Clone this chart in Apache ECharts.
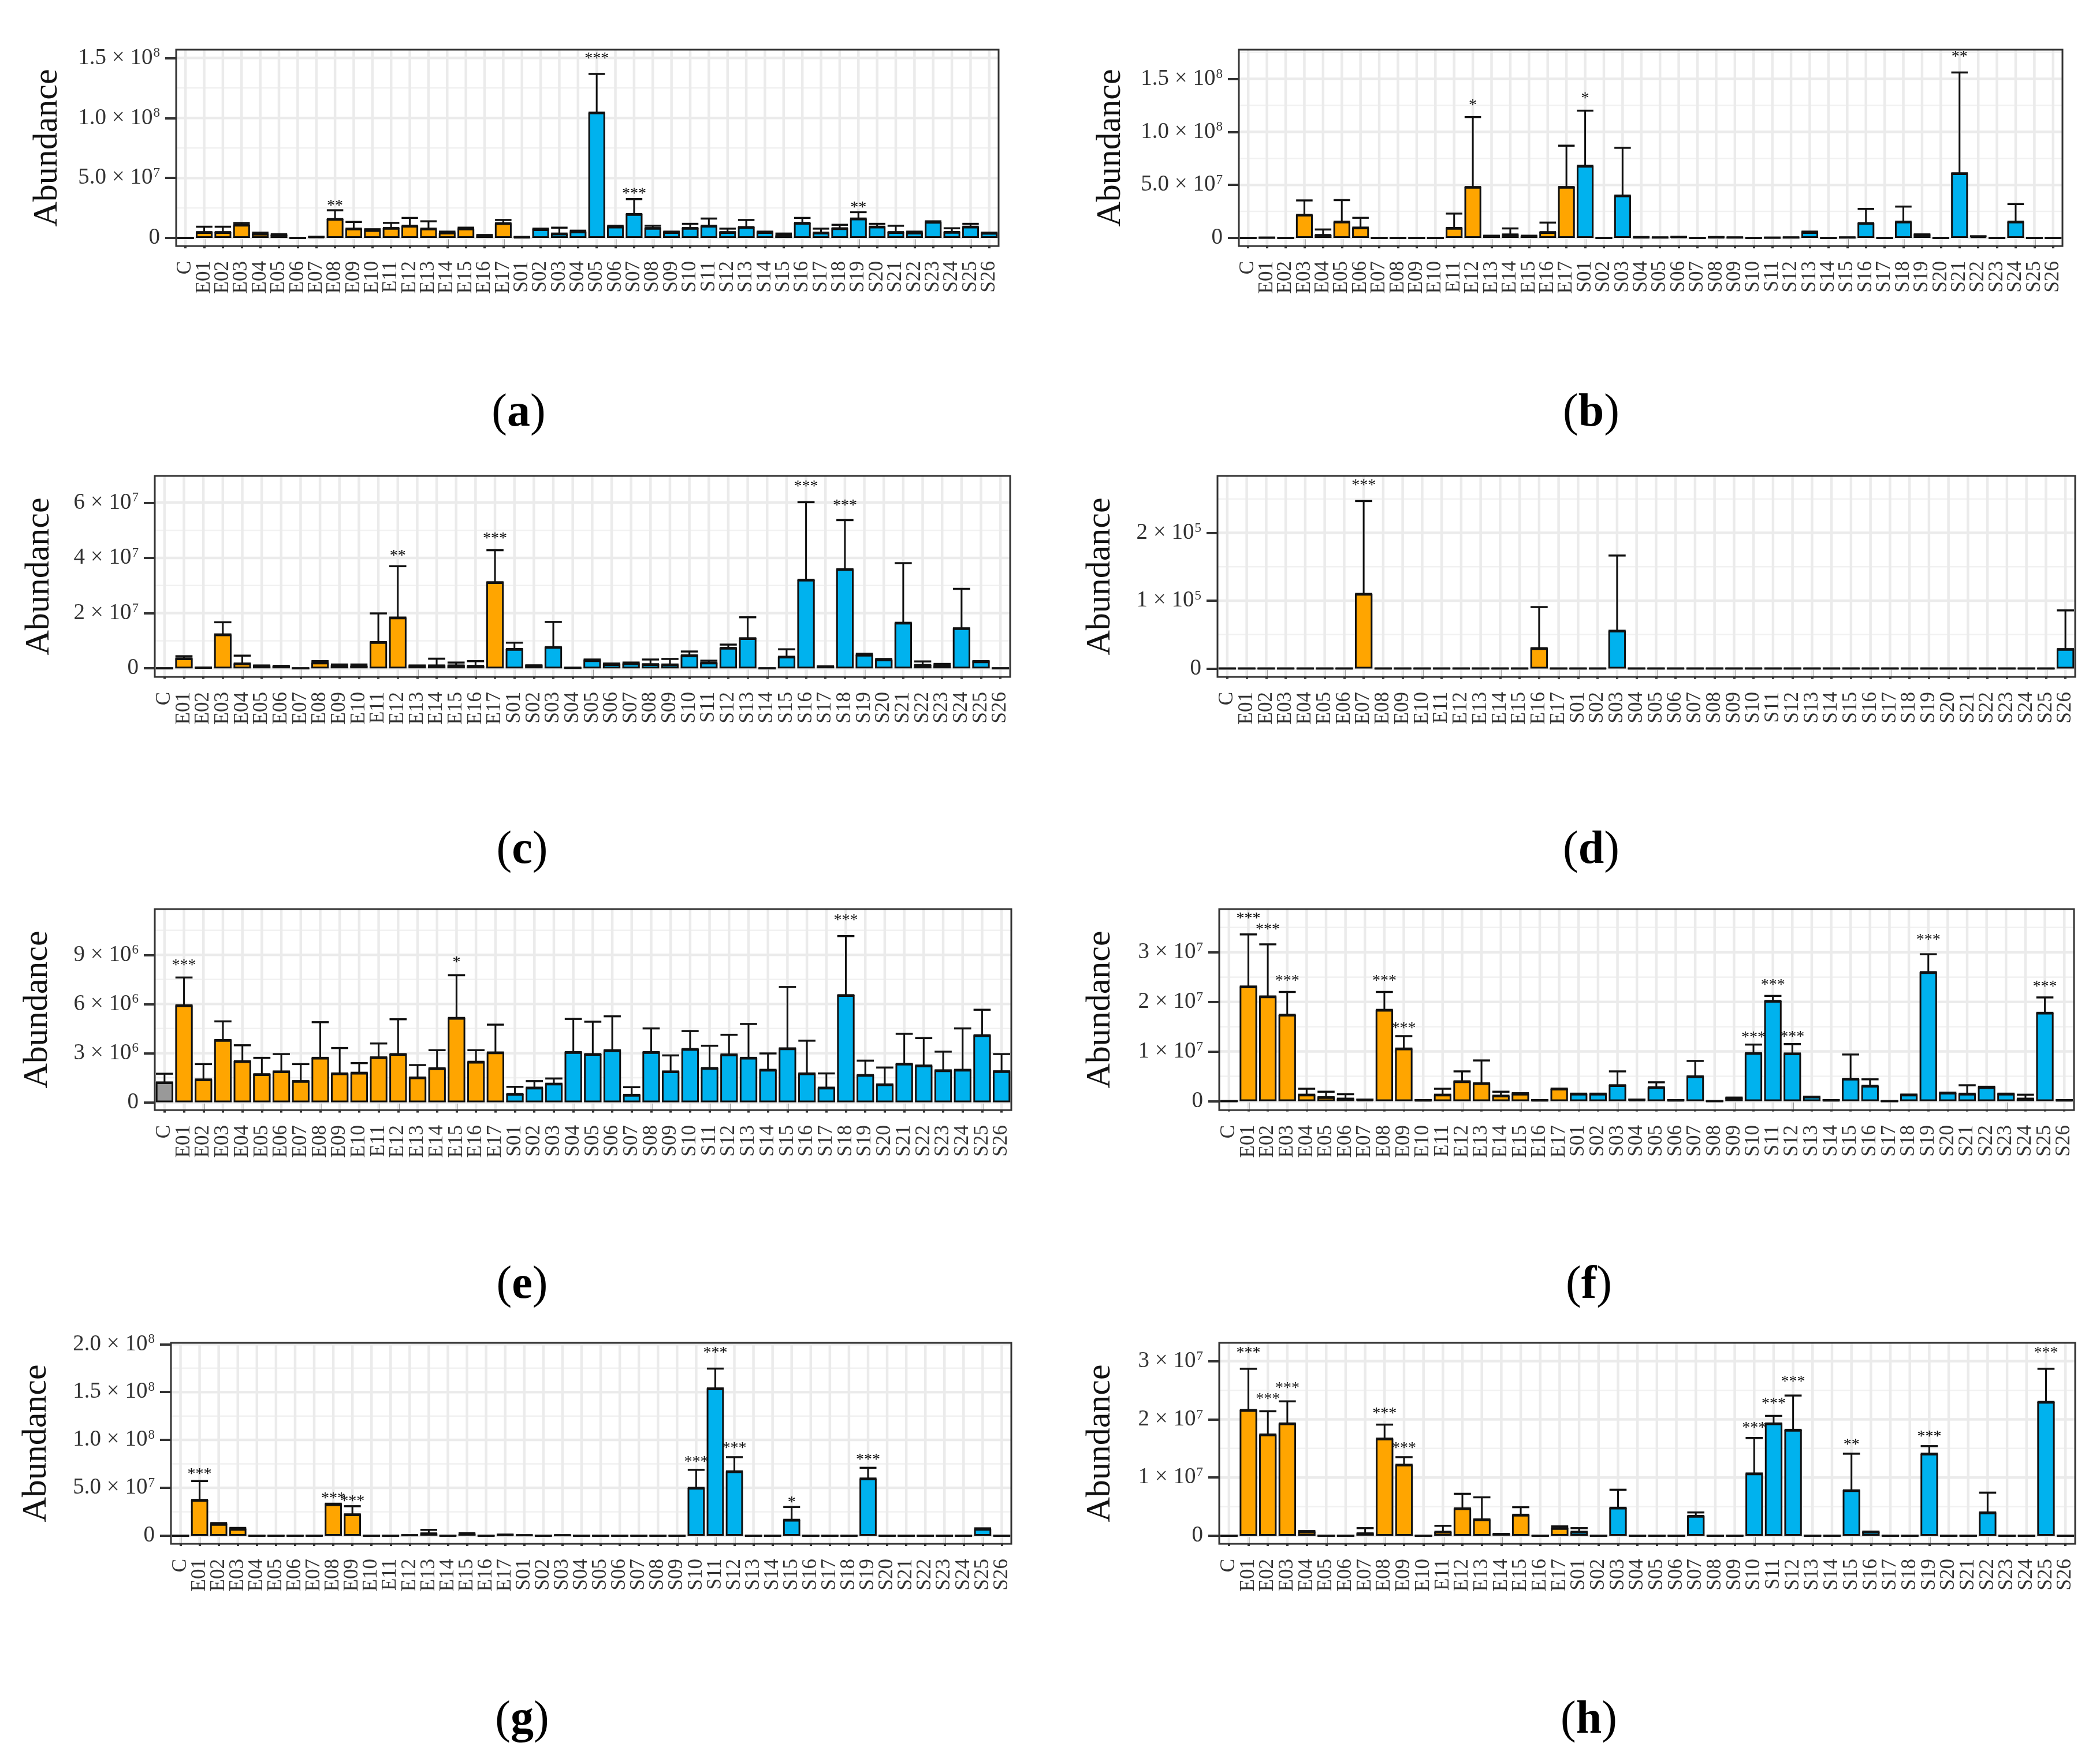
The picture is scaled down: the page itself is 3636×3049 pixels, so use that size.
<!DOCTYPE html>
<html><head><meta charset="utf-8">
<script src="https://cdn.jsdelivr.net/npm/echarts@6/dist/echarts.min.js"></script>
<style>html,body{margin:0;padding:0;background:#fff}#c{width:3636px;height:3049px}</style>
</head><body><div id="c"></div><script>
// ---------- data ----------
const categories = ['C','E01','E02','E03','E04','E05','E06','E07','E08','E09','E10','E11','E12','E13','E14','E15','E16','E17',
  'S01','S02','S03','S04','S05','S06','S07','S08','S09','S10','S11','S12','S13','S14','S15','S16','S17','S18','S19','S20','S21','S22','S23','S24','S25','S26'];

// (a) values x 1e6
const meanA = [0, 4.9,4.9,11,3.5,2.5,0,1.0,15.9,7.8,6.5,8.3,10.2,7.8,4.5,7.8,2.1,12.3,
  0.8,7.3,3.7,5.3,104.4,9.4,19.9,8.3,4.9,8.3,10.2,4.9,9.1,4.9,2.1,12.6,4.5,8.1,16.2,9.4,4.9,4.5,13.4,5.0,9.4,4.2];
const upperA = [0, 9.4,9.4,12.5,4.5,3.2,0,1.0,23.1,13.4,7.3,12.6,16.7,13.9,5.3,8.6,2.5,15.0,
  0.8,7.8,8.6,6.1,136.7,10.2,32.4,10.2,5.3,11.8,16.2,7.8,15.0,5.3,3.7,16.7,7.8,11.0,21.5,11.8,10.2,5.3,13.9,8.1,11.8,4.5];
const sigA = {E08:'**', S05:'***', S07:'***', S19:'**'};
const ticksA = [0, 5e7, 1e8, 1.5e8];

// (b) values x 1e6
const meanB = [0, 0.3,0,21.9,2.8,15.4,9.8,0,0,0,0,9.4,48,2.0,3.3,2.0,5.5,48,
  68,0,40,0.8,0.5,1.0,0,0.8,0.5,0,0.3,0.5,5.5,0,0.5,14,0,15.4,3.3,0,61,1.5,0,15.4,0,0];
const upperB = [0, 0.3,0,35.4,8,35.7,19,0,0,0,0,23,114,2.0,9,2.0,14.5,87,
  120,0,85,0.8,0.5,1.0,0,0.8,0.5,0,0.3,0.5,6.0,0,0.5,27.4,0,29.6,3.3,0,156,1.5,0,32,0,0];
const sigB = {E12:'*', S01:'*', S21:'**'};
const ticksB = [0, 5e7, 1e8, 1.5e8];

// (c) values x 1e6
const meanC = [0, 3.6,0.3,12.3,1.75,1.0,0.9,0,2.1,1.05,0.9,9.5,18.4,1.0,1.05,1.05,0.9,31.2,
  7.0,1.05,7.7,0.2,2.9,1.5,1.75,1.5,1.4,4.7,2.1,7.4,10.9,0,4.2,32.1,0.7,35.9,4.9,3.2,16.5,1.2,1.05,14.5,2.5,0];
const upperC = [0, 4.4,0.3,16.7,4.6,1.0,0.9,0,2.6,1.4,1.4,19.9,37.0,1.0,3.5,2.1,2.6,42.8,
  9.3,1.05,16.8,0.2,3.2,1.75,2.1,3.2,3.4,6.1,2.8,8.6,18.5,0,6.9,60.2,0.7,53.7,5.3,3.4,38.1,2.5,1.6,28.8,2.6,0];
const sigC = {E12:'**', E17:'***', S16:'***', S18:'***'};
const ticksC = [0, 2e7, 4e7, 6e7];

// (d) values x 1e5
const meanD = [0, 0,0,0,0,0,0,1.10,0,0,0,0,0,0,0,0,0.30,0,
  0,0,0.557,0,0,0,0,0,0,0,0,0,0,0,0,0,0,0,0,0,0,0,0,0,0,0.286];
const upperD = [0, 0,0,0,0,0,0,2.47,0,0,0,0,0,0,0,0,0.906,0,
  0,0,1.666,0,0,0,0,0,0,0,0,0,0,0,0,0,0,0,0,0,0,0,0,0,0,0.857];
const sigD = {E07:'***'};
const ticksD = [0, 1e5, 2e5];

// (e) values x 1e6
const meanE = [1.21, 5.92,1.39,3.8,2.51,1.71,1.88,1.29,2.71,1.76,1.8,2.74,2.94,1.51,2.07,5.15,2.47,3.04,
  0.51,0.89,1.13,3.06,2.94,3.18,0.45,3.06,1.88,3.25,2.09,2.92,2.71,1.98,3.29,1.76,0.89,6.54,1.66,1.09,2.35,2.24,1.95,1.98,4.09,1.89];
const upperE = [1.74, 7.62,2.33,4.94,3.48,2.71,2.94,2.33,4.89,3.31,2.39,3.59,5.07,2.27,3.18,7.76,3.18,4.74,
  0.94,1.29,1.45,5.09,4.92,5.25,0.92,4.51,2.86,4.35,3.45,4.12,4.78,2.98,7.04,3.76,1.76,10.15,2.54,2.12,4.18,3.92,3.09,4.51,5.65,2.94];
const sigE = {E01:'***', E15:'*', S18:'***'};
const ticksE = [0, 3e6, 6e6, 9e6];

// (f) values x 1e7
const meanF = [0, 2.31,2.11,1.74,0.13,0.08,0.05,0.03,1.84,1.06,0.02,0.13,0.40,0.36,0.11,0.15,0.02,0.25,
  0.15,0.15,0.32,0.03,0.28,0.02,0.50,0,0.07,0.97,2.02,0.96,0.09,0.02,0.45,0.31,0,0.13,2.60,0.17,0.15,0.28,0.15,0.05,1.78,0.02];
const upperF = [0, 3.36,3.16,2.20,0.25,0.19,0.14,0.03,2.20,1.31,0.02,0.25,0.60,0.82,0.19,0.16,0.02,0.25,
  0.15,0.15,0.60,0.03,0.38,0.02,0.81,0,0.07,1.14,2.12,1.15,0.09,0.02,0.94,0.44,0,0.13,2.96,0.17,0.32,0.29,0.15,0.13,2.09,0.02];
const sigF = {E01:'***', E02:'***', E03:'***', E08:'***', E09:'***', S10:'***', S11:'***', S12:'***', S19:'***', S25:'***'};
const ticksF = [0, 1e7, 2e7, 3e7];

// (g) values x 1e7
const meanG = [0, 3.74,1.21,0.71,0,0,0,0,3.28,2.23,0,0,0.05,0.24,0,0.2,0,0.1,
  0.05,0,0.05,0,0,0,0,0,0,5.0,15.38,6.72,0,0,1.66,0,0,0,5.97,0,0,0,0,0,0.71,0];
const upperG = [0, 5.71,1.32,0.81,0,0,0,0,3.34,3.08,0,0,0.05,0.61,0,0.25,0,0.1,
  0.05,0,0.05,0,0,0,0,0,0,6.88,17.45,8.2,0,0,3.0,0,0,0,7.09,0,0,0,0,0,0.77,0];
const sigG = {E01:'***', E08:'***', E09:'***', S10:'***', S11:'***', S12:'***', S15:'*', S19:'***'};
const ticksG = [0, 5e7, 1e8, 1.5e8, 2e8];

// (h) values x 1e7
const meanH = [0, 2.16,1.74,1.93,0.067,0,0,0.04,1.67,1.22,0,0.067,0.47,0.28,0.03,0.36,0,0.13,
  0.067,0,0.48,0,0,0,0.34,0,0,1.07,1.93,1.82,0,0,0.78,0.067,0,0,1.41,0,0,0.40,0,0,2.3,0];
const upperH = [0, 2.87,2.14,2.31,0.08,0,0,0.13,1.91,1.35,0,0.17,0.72,0.66,0.03,0.49,0,0.16,
  0.13,0,0.79,0,0,0,0.40,0,0,1.68,2.06,2.41,0,0,1.41,0.067,0,0,1.54,0,0,0.74,0,0,2.87,0];
const sigH = {E01:'***', E02:'***', E03:'***', E08:'***', E09:'***', S10:'***', S11:'***', S12:'***', S15:'**', S19:'***', S25:'***'};
const ticksH = [0, 1e7, 2e7, 3e7];

// ---------- layout ----------
const panels = [
  {key:'a', mean:meanA, upper:upperA, unit:1e6, sig:sigA, ticks:ticksA, dec:1, box:[305,86,1729,426],  yMin:-6.7e6, yMax:1.569e8, titleX:82,   cap:[898,716]},
  {key:'b', mean:meanB, upper:upperB, unit:1e6, sig:sigB, ticks:ticksB, dec:1, box:[2145,86,3571,426], yMin:-7.6e6, yMax:1.775e8, titleX:1923, cap:[2755,716]},
  {key:'c', mean:meanC, upper:upperC, unit:1e6, sig:sigC, ticks:ticksC, dec:0, box:[268,824,1749,1172], yMin:-3.1e6, yMax:6.97e7, titleX:68,  cap:[904,1473]},
  {key:'d', mean:meanD, upper:upperD, unit:1e5, sig:sigD, ticks:ticksD, dec:0, box:[2108,824,3593,1172],yMin:-1.24e4,yMax:2.84e5, titleX:1905, cap:[2755,1473]},
  {key:'e', mean:meanE, upper:upperE, unit:1e6, sig:sigE, ticks:ticksE, dec:0, box:[268,1574,1751,1922],yMin:-4.8e5, yMax:1.18e7, titleX:65,  cap:[904,2226]},
  {key:'f', mean:meanF, upper:upperF, unit:1e7, sig:sigF, ticks:ticksF, dec:0, box:[2111,1574,3591,1922],yMin:-1.8e6,yMax:3.87e7, titleX:1905, cap:[2751,2226]},
  {key:'g', mean:meanG, upper:upperG, unit:1e7, sig:sigG, ticks:ticksG, dec:1, box:[296,2325,1751,2673],yMin:-8.5e6, yMax:2.014e8, titleX:63,  cap:[904,2979]},
  {key:'h', mean:meanH, upper:upperH, unit:1e7, sig:sigH, ticks:ticksH, dec:0, box:[2111,2325,3593,2673],yMin:-1.4e6,yMax:3.316e7, titleX:1905, cap:[2751,2979]}
];

const FONT = 'Liberation Serif';
const TXT = '#333333';
function colorFor(c){ return c === 'C' ? '#999999' : (c[0] === 'E' ? '#FFA500' : '#00B2EE'); }
function fmtTick(v, dec){
  if (v === 0) return '0';
  const e = Math.floor(Math.log10(v) + 1e-9);
  const m = v / Math.pow(10, e);
  return m.toFixed(dec) + ' \u00d7 10{sup|' + e + '}';
}
function minorsOf(p){
  const t = p.ticks, step = t[1] - t[0], out = [];
  for (let i = 0; i < t.length; i++) { const v = t[i] + step / 2; if (v < p.yMax) out.push(v); }
  return out;
}

const grid = [], xAxis = [], yAxis = [], series = [], graphic = [];
panels.forEach((p, i) => {
  const [l, t, r, b] = p.box;
  grid.push({left:l, top:t, width:r - l, height:b - t, show:false});
  xAxis.push({type:'category', gridIndex:i, data:categories, boundaryGap:true,
    axisLine:{show:false}, splitLine:{show:false},
    axisTick:{show:true, alignWithLabel:true, interval:0, length:18, lineStyle:{color:TXT, width:4}},
    axisLabel:{interval:0, rotate:90, fontSize:35, fontFamily:FONT, color:TXT, margin:26}});
  yAxis.push({type:'value', gridIndex:i, min:p.yMin, max:p.yMax,
    axisLine:{show:false}, splitLine:{show:false},
    axisTick:{show:true, length:19, lineStyle:{color:TXT, width:4}, customValues:p.ticks},
    axisLabel:{customValues:p.ticks, formatter:v => fmtTick(v, p.dec), fontSize:39, fontFamily:FONT, color:TXT, margin:28,
      rich:{sup:{fontSize:23, fontFamily:FONT, color:TXT, verticalAlign:'top', padding:[0,0,12,1]}}}});

  // horizontal grid lines (major + minor)
  const hl = p.ticks.map(v => [0, v, 1]).concat(minorsOf(p).map(v => [0, v, 0]));
  series.push({type:'custom', xAxisIndex:i, yAxisIndex:i, z:1, silent:true, encode:{x:0, y:1},
    data:hl,
    renderItem:(params, api) => {
      const cs = params.coordSys; const y = api.coord([0, api.value(1)])[1];
      const major = api.value(2) === 1;
      return {type:'line', shape:{x1:cs.x, y1:y, x2:cs.x + cs.width, y2:y},
        style:{stroke: major ? '#EBEBEB' : '#F1F1F1', lineWidth: major ? 4.5 : 2.5}};
    }});
  // vertical grid lines at category centres
  series.push({type:'custom', xAxisIndex:i, yAxisIndex:i, z:1, silent:true, encode:{x:0, y:1},
    data:categories.map((c, k) => [k, 0]),
    renderItem:(params, api) => {
      const cs = params.coordSys; const x = api.coord([api.value(0), 0])[0];
      return {type:'line', shape:{x1:x, y1:cs.y, x2:x, y2:cs.y + cs.height},
        style:{stroke:'#EBEBEB', lineWidth:4.5}};
    }});

  series.push({type:'bar', xAxisIndex:i, yAxisIndex:i, z:2, silent:true, barCategoryGap:'10%',
    itemStyle:{borderColor:'#111', borderWidth:3},
    data:p.mean.map((v, k) => ({value:v * p.unit, itemStyle:{color:colorFor(categories[k])}}))});

  series.push({type:'custom', xAxisIndex:i, yAxisIndex:i, z:3, silent:true, encode:{x:0, y:[1,2]},
    data:categories.map((c, k) => [k, p.mean[k] * p.unit, p.upper[k] * p.unit]),
    renderItem:(params, api) => {
      const x = api.value(0), m = api.value(1), u = api.value(2);
      const p0 = api.coord([x, m]), p1 = api.coord([x, u]);
      const hw = api.size([1, 0])[0] * 0.44;
      const st = {stroke:'#111', lineWidth:3};
      const cs = {stroke:'#111', lineWidth:3.5};
      return {type:'group', children:[
        {type:'line', shape:{x1:p0[0], y1:p0[1], x2:p1[0], y2:p1[1]}, style:st},
        {type:'line', shape:{x1:p0[0]-hw, y1:p0[1], x2:p0[0]+hw, y2:p0[1]}, style:cs},
        {type:'line', shape:{x1:p1[0]-hw, y1:p1[1], x2:p1[0]+hw, y2:p1[1]}, style:cs}
      ]};
    }});

  const sigList = categories.map(c => p.sig[c] || '');
  series.push({type:'custom', xAxisIndex:i, yAxisIndex:i, z:4, silent:true, encode:{x:0, y:1},
    data:categories.map((c, k) => [k, p.upper[k] * p.unit]),
    renderItem:(params, api) => {
      const k = api.value(0); const s = sigList[k];
      if (!s) return;
      const yv = 1.08 * api.value(1) + 0.036 * p.yMax;
      const pt = api.coord([k, yv]);
      return {type:'text', x:pt[0], y:pt[1] + 8,
        style:{text:s, fontSize:28, fontFamily:FONT, fill:'#111', align:'center', verticalAlign:'middle'}};
    }});

  graphic.push({type:'rect', shape:{x:l, y:t, width:r - l, height:b - t}, z:100,
    style:{fill:'none', stroke:'#333', lineWidth:3}, silent:true});
  graphic.push({type:'text', x:p.titleX, y:(t + b) / 2, rotation:Math.PI / 2, z:100, silent:true,
    style:{text:'Abundance', fontSize:60, fontFamily:FONT, fill:'#111', align:'center', verticalAlign:'middle'}});
  graphic.push({type:'text', x:p.cap[0], y:p.cap[1], z:100, silent:true,
    style:{text:'{p|(}{b|' + p.key + '}{p|)}', align:'center', verticalAlign:'middle',
      rich:{p:{fontSize:80, fontFamily:FONT, fill:'#000'}, b:{fontSize:80, fontFamily:FONT, fontWeight:'bold', fill:'#000'}}}});
});

const chart = echarts.init(document.getElementById('c'), null, {renderer:'canvas', width:3636, height:3049});
chart.setOption({backgroundColor:'#ffffff', animation:false, grid, xAxis, yAxis, series, graphic});
</script></body></html>
